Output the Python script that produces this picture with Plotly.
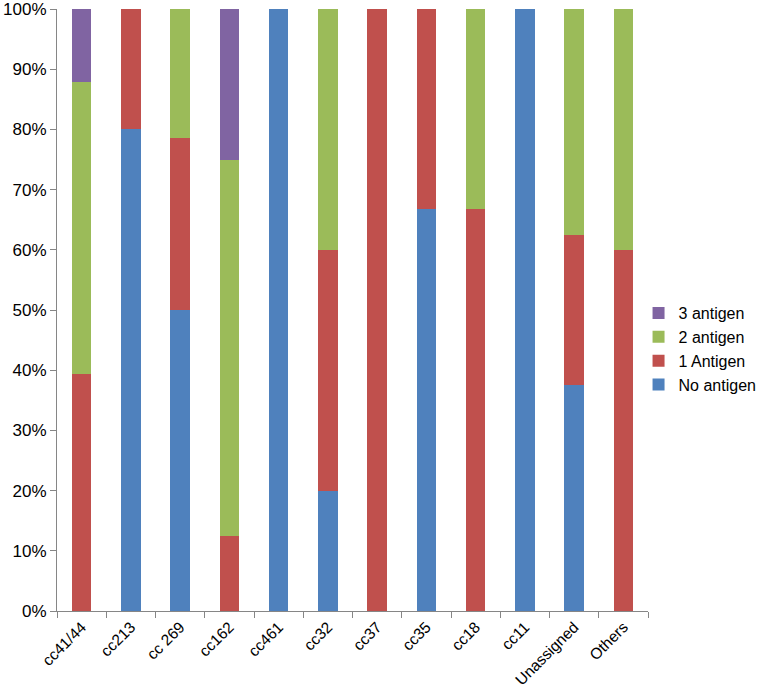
import plotly.graph_objects as go

categories = ["cc41/44", "cc213", "cc 269", "cc162", "cc461", "cc32", "cc37",
              "cc35", "cc18", "cc11", "Unassigned", "Others"]
no_antigen = [0, 80, 50, 0, 100, 20, 0, 66.7, 0, 100, 37.5, 0]
one_antigen = [39.4, 20, 28.6, 12.5, 0, 40, 100, 33.3, 66.7, 0, 25, 60]
two_antigen = [48.5, 0, 21.4, 62.5, 0, 40, 0, 0, 33.3, 0, 37.5, 40]
three_antigen = [12.1, 0, 0, 25, 0, 0, 0, 0, 0, 0, 0, 0]
y_ticks = [0, 10, 20, 30, 40, 50, 60, 70, 80, 90, 100]
y_tick_labels = ["0%", "10%", "20%", "30%", "40%", "50%", "60%", "70%", "80%", "90%", "100%"]

series = [
    ("No antigen", no_antigen, "#4F81BD"),
    ("1 Antigen", one_antigen, "#C0504D"),
    ("2 antigen", two_antigen, "#9BBB59"),
    ("3 antigen", three_antigen, "#8064A2"),
]

fig = go.Figure()
for name, vals, color in series:
    fig.add_trace(go.Bar(x=categories, y=vals, name=name, marker_color=color,
                         marker_line_width=0))

font = "Liberation Sans, Arial, sans-serif"
fig.update_layout(
    barmode="stack",
    bargap=0.6,
    width=764, height=696,
    margin=dict(l=57, r=116, t=9, b=85, autoexpand=False),
    plot_bgcolor="white", paper_bgcolor="white",
    font=dict(family=font, size=16, color="black"),
    legend=dict(traceorder="reversed", x=0.984, y=0.435, xanchor="left", yanchor="middle",
                font=dict(size=16), itemwidth=30, tracegroupgap=0,
                bgcolor="rgba(0,0,0,0)"),
    showlegend=True,
)
fig.update_xaxes(showline=True, linecolor="#868686", linewidth=1, ticks="outside",
                 tickson="boundaries", ticklen=6, tickcolor="#868686", tickangle=-45,
                 showgrid=False, tickfont=dict(size=15.5))
fig.update_yaxes(range=[0, 100], showline=True, linecolor="#868686", linewidth=1,
                 ticks="outside", ticklen=6, tickcolor="#868686", showgrid=False,
                 tickmode="array", tickvals=y_ticks, ticktext=y_tick_labels,
                 ticklabeloverflow="allow",
                 tickfont=dict(size=17), zeroline=False)

fig.write_html("out.html", config={"displayModeBar": False},
               post_script="document.body.style.margin='0';document.body.style.overflow='hidden';")
